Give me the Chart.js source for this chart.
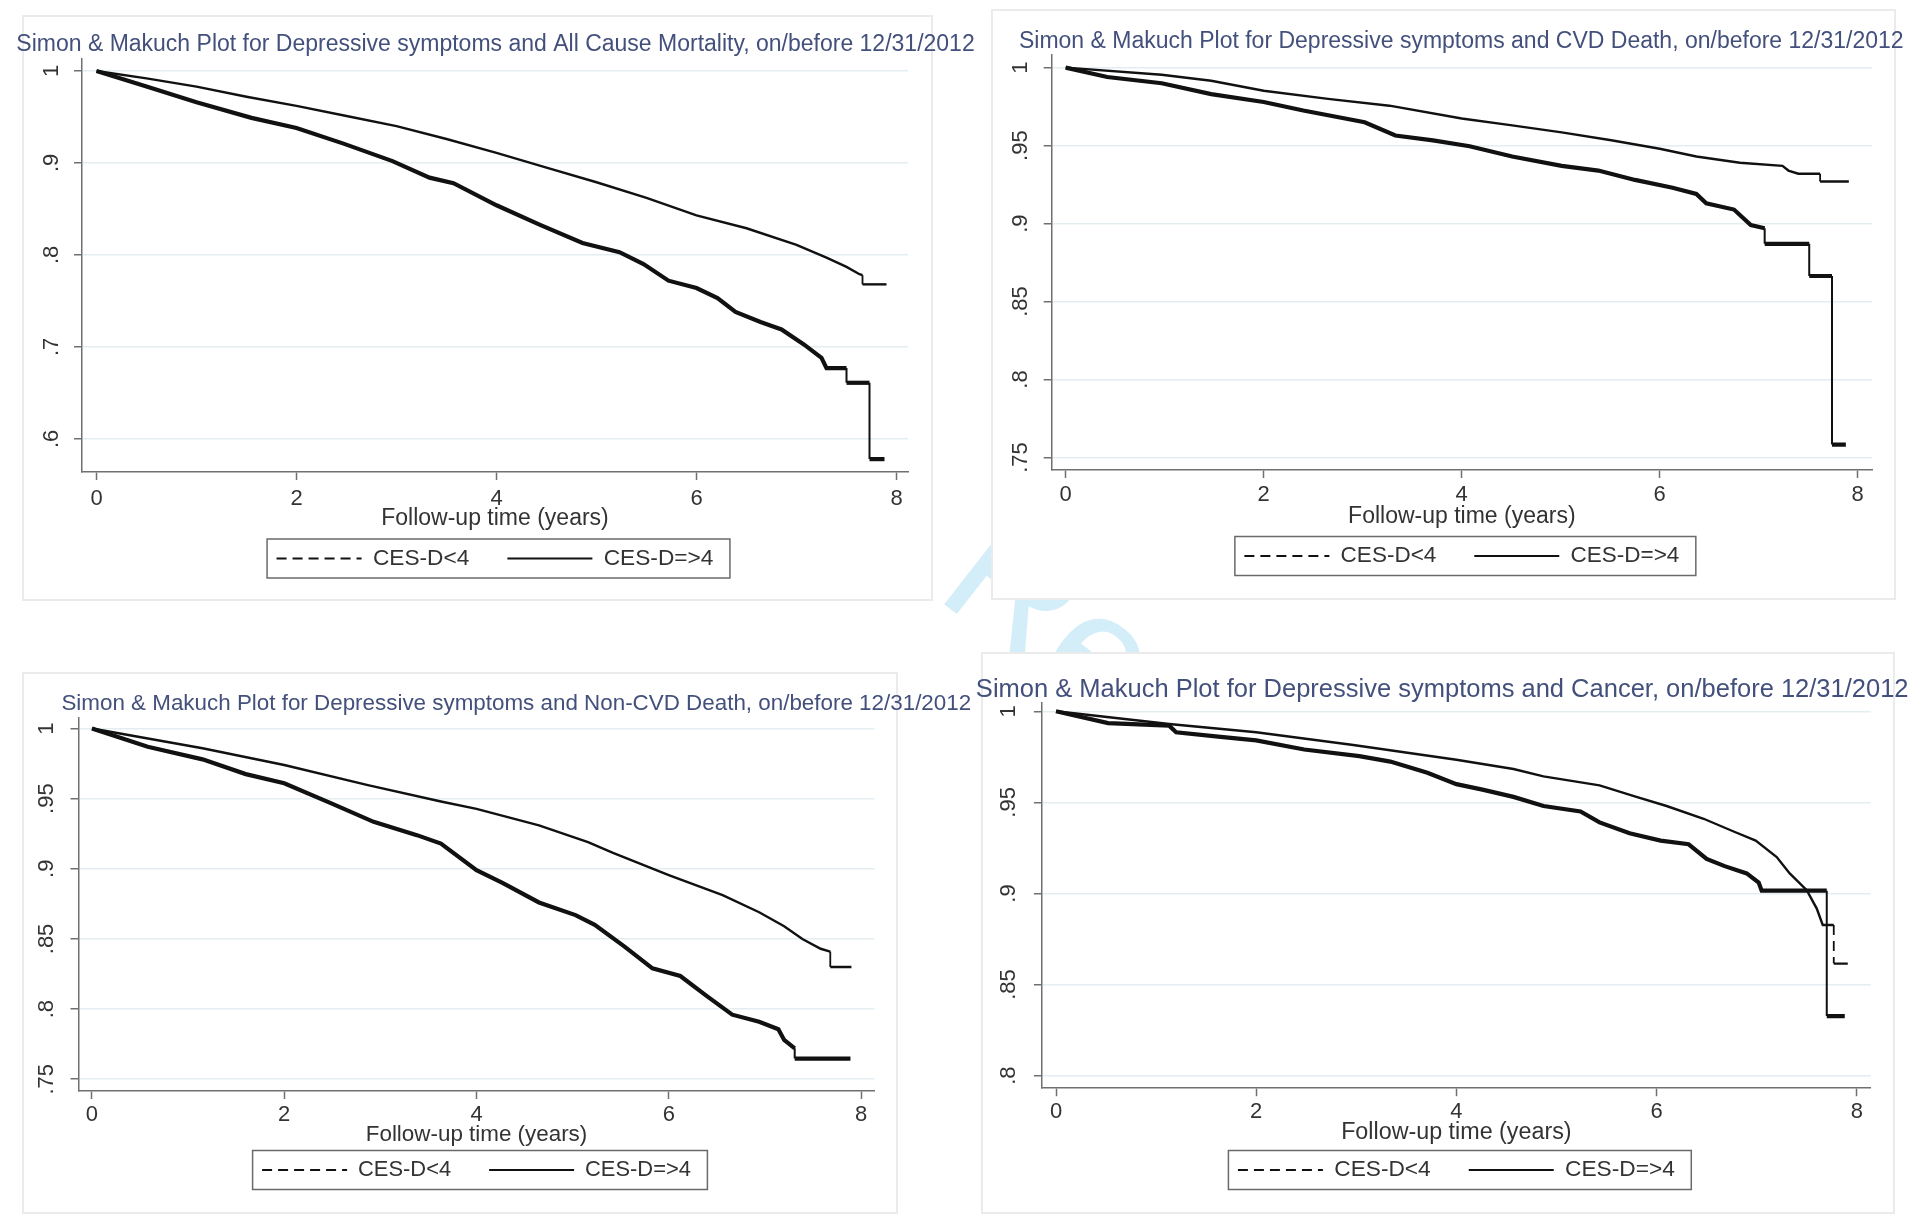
<!DOCTYPE html>
<html>
<head>
<meta charset="utf-8">
<script src="https://cdn.jsdelivr.net/npm/chart.js@4.4.1/dist/chart.umd.min.js"></script>
<style>
  html, body { margin: 0; padding: 0; background: #fff; }
  #page { position: relative; width: 1923px; height: 1216px; overflow: hidden; background: #fff; }
  .panel { position: absolute; background: #fff; border: 2px solid #ebebeb; box-sizing: border-box; }
  .watermark {
    position: absolute; left: 1030px; top: 472px; font: 170px "Liberation Sans", Arial, sans-serif;
    color: #d3edf9; transform: rotate(38deg); transform-origin: 0 0; white-space: nowrap;
  }
  canvas { position: absolute; left: 0; top: 0; }
</style>
</head>
<body>
<div id="page">
  <div class="watermark">Review</div>
  <div class="panel" style="left:22px;top:15px;width:911px;height:586px"></div>
  <div class="panel" style="left:991px;top:9px;width:905px;height:591px"></div>
  <div class="panel" style="left:22px;top:672px;width:876px;height:542px"></div>
  <div class="panel" style="left:981px;top:652px;width:914px;height:562px"></div>
  <canvas id="c1" width="1923" height="1216"></canvas>
  <canvas id="c2" width="1923" height="1216"></canvas>
  <canvas id="c3" width="1923" height="1216"></canvas>
  <canvas id="c4" width="1923" height="1216"></canvas>
</div>
<script>
// ===== Data =====
const groupLabels = ['CES-D<4', 'CES-D=>4'];
const xTickValues = [0, 2, 4, 6, 8];

// All cause mortality
const acLowTime  = [0, 0.5, 1, 1.5, 2, 2.5, 3, 3.5, 4, 4.5, 5, 5.5, 6, 6.5, 7, 7.3, 7.5, 7.63, 7.66, 7.66, 7.9];
const acLowSurv  = [1, 0.992, 0.983, 0.972, 0.962, 0.951, 0.940, 0.926, 0.911, 0.895, 0.879, 0.862, 0.843, 0.829, 0.811, 0.797, 0.787, 0.779, 0.778, 0.768, 0.768];
const acHighTime = [0, 0.5, 1.0, 1.55, 2.0, 2.47, 2.96, 3.33, 3.57, 4.0, 4.43, 4.86, 5.23, 5.47, 5.72, 6.0, 6.21, 6.39, 6.64, 6.85, 7.07, 7.25, 7.3, 7.5, 7.5, 7.73, 7.73, 7.88];
const acHighSurv = [1, 0.983, 0.966, 0.949, 0.938, 0.921, 0.902, 0.884, 0.878, 0.854, 0.833, 0.813, 0.803, 0.790, 0.772, 0.764, 0.753, 0.738, 0.727, 0.719, 0.703, 0.688, 0.677, 0.677, 0.661, 0.661, 0.578, 0.578];
const acYTicks   = [0.6, 0.7, 0.8, 0.9, 1];

// CVD death
const cvdLowTime  = [0, 0.97, 1.47, 2.0, 2.65, 3.27, 4.0, 4.51, 5.01, 5.51, 6.0, 6.37, 6.81, 7.24, 7.3, 7.4, 7.62, 7.62, 7.91];
const cvdLowSurv  = [1, 0.9954, 0.9916, 0.9852, 0.980, 0.9756, 0.9674, 0.963, 0.9585, 0.9534, 0.948, 0.943, 0.939, 0.937, 0.934, 0.932, 0.932, 0.927, 0.927];
const cvdHighTime = [0, 0.42, 0.97, 1.47, 2.0, 2.4, 3.02, 3.33, 3.71, 4.08, 4.51, 5.01, 5.38, 5.75, 6.13, 6.37, 6.47, 6.75, 6.92, 7.06, 7.06, 7.51, 7.51, 7.74, 7.74, 7.88];
const cvdHighSurv = [1, 0.994, 0.990, 0.983, 0.978, 0.9725, 0.965, 0.9565, 0.9534, 0.9496, 0.943, 0.937, 0.934, 0.928, 0.923, 0.919, 0.913, 0.909, 0.899, 0.897, 0.887, 0.887, 0.8664, 0.8664, 0.7583, 0.7583];
const cvdYTicks   = [0.75, 0.8, 0.85, 0.9, 0.95, 1];

// Non-CVD death
const ncvdLowTime  = [0, 1.15, 2.0, 2.87, 3.63, 4.0, 4.65, 5.16, 5.42, 6.0, 6.56, 6.94, 7.2, 7.39, 7.58, 7.68, 7.68, 7.9];
const ncvdLowSurv  = [1, 0.9859, 0.974, 0.9597, 0.948, 0.9427, 0.931, 0.919, 0.9113, 0.8955, 0.8812, 0.869, 0.859, 0.850, 0.843, 0.841, 0.830, 0.830];
const ncvdHighTime = [0, 0.58, 1.15, 1.6, 2.0, 2.49, 2.93, 3.38, 3.63, 4.0, 4.27, 4.65, 5.03, 5.23, 5.54, 5.83, 6.12, 6.4, 6.66, 6.94, 7.14, 7.2, 7.31, 7.31, 7.89];
const ncvdHighSurv = [1, 0.987, 0.978, 0.9675, 0.961, 0.9466, 0.9335, 0.924, 0.918, 0.899, 0.890, 0.876, 0.867, 0.860, 0.8445, 0.829, 0.8236, 0.809, 0.796, 0.791, 0.7856, 0.778, 0.772, 0.7647, 0.7647];
const ncvdYTicks   = [0.75, 0.8, 0.85, 0.9, 0.95, 1];

// Cancer
const canLowTime  = [0, 1.13, 2.0, 2.97, 4.0, 4.57, 4.87, 5.43, 5.79, 6.1, 6.47, 6.77, 6.99, 7.2, 7.33, 7.5, 7.6, 7.66, 7.77, 7.77, 7.91];
const canLowSurv  = [1, 0.993, 0.9885, 0.9815, 0.9734, 0.9683, 0.9643, 0.9593, 0.9532, 0.948, 0.941, 0.934, 0.929, 0.920, 0.911, 0.9018, 0.8917, 0.8827, 0.8827, 0.8615, 0.8615];
const canHighTime = [0, 0.52, 1.13, 1.2, 1.62, 2.0, 2.48, 3.03, 3.34, 3.71, 4.0, 4.26, 4.57, 4.87, 5.24, 5.43, 5.73, 6.04, 6.32, 6.5, 6.68, 6.9, 7.02, 7.05, 7.70, 7.70, 7.88];
const canHighSurv = [1, 0.9935, 0.9921, 0.9885, 0.9861, 0.984, 0.979, 0.9754, 0.9724, 0.9663, 0.960, 0.957, 0.953, 0.948, 0.945, 0.939, 0.933, 0.929, 0.927, 0.919, 0.915, 0.911, 0.906, 0.9015, 0.9015, 0.8327, 0.8327];
const canYTicks   = [0.8, 0.85, 0.9, 0.95, 1];

// ===== Styling =====
const FONT = '"Liberation Sans", Arial, sans-serif';
const TITLE_COLOR = '#43507c';
const TEXT_COLOR = '#333333';
const AXIS_COLOR = '#707070';
const GRID_COLOR = '#e4eef1';
const LINE_COLOR = '#111111';
const PAGE_W = 1923, PAGE_H = 1216;
const Y_AXIS_W = 60, TICK_LEN = 8, LEGEND_PAD = 38, TICK_FONT = 22;

// ===== Panel layout (pixel boxes of each plot region) =====
const panels = [
  {
    id: 'c1', title: 'Simon & Makuch Plot for Depressive symptoms and All Cause Mortality, on/before 12/31/2012',
    low: [acLowTime, acLowSurv], high: [acHighTime, acHighSurv], yTicks: acYTicks,
    xRange: [-0.145, 8.115], yRange: [0.564, 1.013],
    area: { left: 82, right: 908, top: 59, bottom: 472 },
    titleAt: [495.5, 45], titleSize: 23, yLabelOff: 30,
    tickGap: 26, xTitleGap: 44, legendGap: 86.5, xTitleSize: 23, legendSize: 22.7
  },
  {
    id: 'c2', title: 'Simon & Makuch Plot for Depressive symptoms and CVD Death, on/before 12/31/2012',
    low: [cvdLowTime, cvdLowSurv], high: [cvdHighTime, cvdHighSurv], yTicks: cvdYTicks,
    xRange: [-0.141, 8.144], yRange: [0.742, 1.0081],
    area: { left: 1051.7, right: 1872, top: 55, bottom: 470 },
    titleAt: [1461.3, 41.5], titleSize: 23, yLabelOff: 31,
    tickGap: 24, xTitleGap: 44, legendGap: 86, xTitleSize: 23, legendSize: 22.5
  },
  {
    id: 'c3', title: 'Simon & Makuch Plot for Depressive symptoms and Non-CVD Death, on/before 12/31/2012',
    low: [ncvdLowTime, ncvdLowSurv], high: [ncvdHighTime, ncvdHighSurv], yTicks: ncvdYTicks,
    xRange: [-0.14, 8.14], yRange: [0.7416, 1.008],
    area: { left: 78.5, right: 874.5, top: 717.3, bottom: 1091 },
    titleAt: [516.3, 703.5], titleSize: 22.4, yLabelOff: 32,
    tickGap: 22.6, xTitleGap: 41, legendGap: 79, xTitleSize: 22.4, legendSize: 21.9
  },
  {
    id: 'c4', title: 'Simon & Makuch Plot for Depressive symptoms and Cancer, on/before 12/31/2012',
    low: [canLowTime, canLowSurv], high: [canHighTime, canHighSurv], yTicks: canYTicks,
    xRange: [-0.141, 8.14], yRange: [0.7931, 1.0046],
    area: { left: 1041.9, right: 1870.8, top: 702.9, bottom: 1088.2 },
    titleAt: [1442.2, 690], titleSize: 25.5, yLabelOff: 33,
    tickGap: 23, xTitleGap: 41.5, legendGap: 81.8, xTitleSize: 23.3, legendSize: 22.7
  }
];

// ===== Helpers =====
const fmtY = (v) => v >= 1 ? '1' : String(+v.toFixed(2)).replace(/^0/, '');
const toPoints = (t, s) => t.map((x, i) => ({ x: x, y: s[i] }));
const isVertical = (ctx) => ctx.p0.parsed.x === ctx.p1.parsed.x;

function widestLabel(values, size) {
  const c = document.createElement('canvas').getContext('2d');
  c.font = `${size}px ${FONT}`;
  return Math.max(...values.map(v => c.measureText(fmtY(v)).width));
}

// Title drawn at a fixed spot (Stata centres it on the whole graph, not the plot)
const panelTitle = {
  id: 'panelTitle',
  afterDraw(chart, args, opts) {
    const ctx = chart.ctx;
    ctx.save();
    ctx.font = `${opts.size}px ${FONT}`;
    ctx.fillStyle = TITLE_COLOR;
    ctx.textAlign = 'center';
    ctx.textBaseline = 'middle';
    ctx.fillText(opts.text, opts.x, opts.y);
    ctx.restore();
  }
};

// Frame around the legend like the Stata legend box
const legendFrame = {
  id: 'legendFrame',
  afterDraw(chart) {
    const boxes = chart.legend && chart.legend.legendHitBoxes;
    if (!boxes || !boxes.length) return;
    const first = boxes[0], last = boxes[boxes.length - 1];
    const midY = first.top + first.height / 2;
    const x0 = first.left - 9.5;
    const x1 = last.left + last.width + 16.5;
    const ctx = chart.ctx;
    ctx.save();
    ctx.strokeStyle = '#6a6a6a';
    ctx.lineWidth = 1.5;
    ctx.strokeRect(x0, midY - 19.5, x1 - x0, 39);
    ctx.restore();
  }
};

// ===== Build one panel =====
function makePanel(p) {
  const legendH = p.legendSize + LEGEND_PAD + 10;
  const xAxisH = p.legendGap - LEGEND_PAD - p.legendSize / 2;
  const xTitlePadB = xAxisH - p.xTitleGap - p.xTitleSize * 0.6 - 2.5;
  const yTickPad = p.yLabelOff - TICK_LEN - widestLabel(p.yTicks, TICK_FONT) / 2;
  const xTickPad = p.tickGap - TICK_LEN - TICK_FONT * 0.55;

  return new Chart(document.getElementById(p.id), {
    type: 'line',
    data: {
      datasets: [
        {
          label: groupLabels[0],
          data: toPoints(p.low[0], p.low[1]),
          borderColor: LINE_COLOR,
          backgroundColor: 'transparent',
          borderWidth: 2.4,
          borderDash: [10, 6],
          pointRadius: 0,
          tension: 0,
          segment: {
            // long vertical drops show the dash pattern; the dense steps look solid
            borderDash: ctx => (isVertical(ctx) && Math.abs(ctx.p1.y - ctx.p0.y) > 30) ? undefined : [],
            borderWidth: ctx => isVertical(ctx) ? 1.8 : undefined
          }
        },
        {
          label: groupLabels[1],
          data: toPoints(p.high[0], p.high[1]),
          borderColor: LINE_COLOR,
          backgroundColor: 'transparent',
          borderWidth: 4.2,
          pointRadius: 0,
          tension: 0,
          segment: {
            borderWidth: ctx => isVertical(ctx) ? 2 : undefined
          }
        }
      ]
    },
    options: {
      responsive: false,
      animation: false,
      events: [],
      layout: {
        padding: {
          left: p.area.left - Y_AXIS_W,
          right: PAGE_W - p.area.right,
          top: p.area.top,
          bottom: PAGE_H - p.area.bottom - xAxisH - legendH
        }
      },
      plugins: {
        title: { display: false },
        tooltip: { enabled: false },
        panelTitle: { text: p.title, x: p.titleAt[0], y: p.titleAt[1], size: p.titleSize },
        legend: {
          display: true,
          position: 'bottom',
          fullSize: false,
          labels: {
            color: TEXT_COLOR,
            font: { family: FONT, size: p.legendSize },
            boxWidth: 85,
            boxHeight: 0,
            padding: LEGEND_PAD,
            generateLabels: (chart) => Chart.defaults.plugins.legend.labels.generateLabels(chart)
              .map(item => ({ ...item, lineWidth: 2, fillStyle: 'transparent' }))
          }
        }
      },
      scales: {
        x: {
          type: 'linear',
          min: p.xRange[0],
          max: p.xRange[1],
          afterBuildTicks: (s) => { s.ticks = xTickValues.map(v => ({ value: v })); },
          afterFit: (s) => { s.height = xAxisH; },
          grid: { drawOnChartArea: false, drawTicks: true, tickLength: TICK_LEN, tickColor: AXIS_COLOR, tickWidth: 1.5 },
          border: { display: true, color: AXIS_COLOR, width: 1.5 },
          ticks: {
            color: TEXT_COLOR, font: { family: FONT, size: TICK_FONT },
            padding: xTickPad, maxRotation: 0, autoSkip: false
          },
          title: {
            display: true, text: 'Follow-up time (years)', color: TEXT_COLOR,
            font: { family: FONT, size: p.xTitleSize },
            padding: { top: 0, bottom: xTitlePadB }
          }
        },
        y: {
          type: 'linear',
          min: p.yRange[0],
          max: p.yRange[1],
          afterBuildTicks: (s) => { s.ticks = p.yTicks.map(v => ({ value: v })); },
          afterFit: (s) => { s.width = Y_AXIS_W; },
          grid: { color: GRID_COLOR, lineWidth: 1.5, drawTicks: true, tickLength: TICK_LEN, tickColor: AXIS_COLOR, tickWidth: 1.5 },
          border: { display: true, color: AXIS_COLOR, width: 1.5 },
          ticks: {
            color: TEXT_COLOR, font: { family: FONT, size: TICK_FONT },
            padding: yTickPad, minRotation: 90, maxRotation: 90, crossAlign: 'center',
            autoSkip: false, callback: (v) => fmtY(v)
          }
        }
      }
    },
    plugins: [panelTitle, legendFrame]
  });
}

// ===== Render =====
panels.forEach(makePanel);
</script>
</body>
</html>
